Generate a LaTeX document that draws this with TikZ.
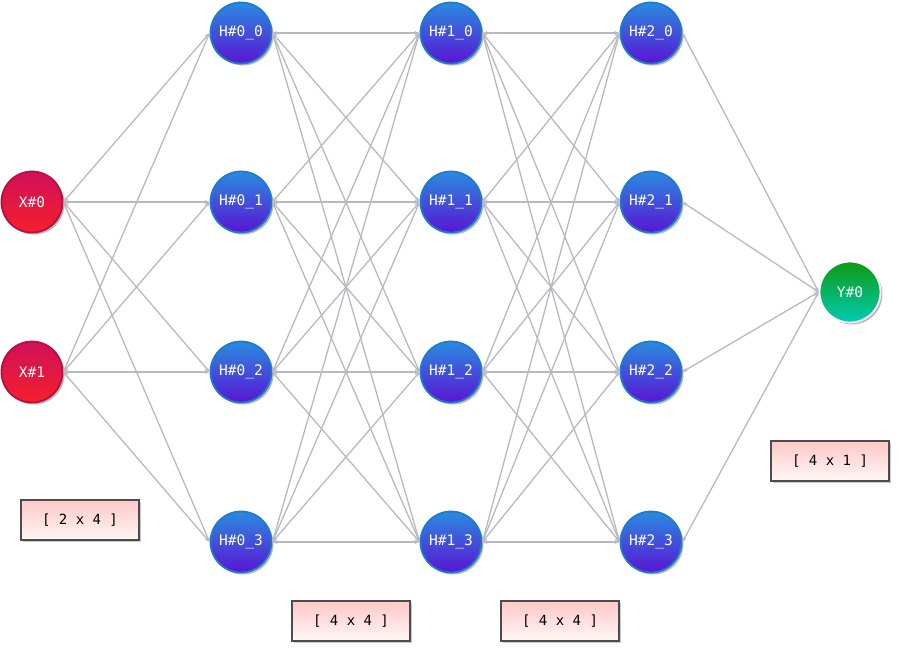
\documentclass[tikz,border=0pt]{standalone}
\usepackage{fontspec}
\setmonofont{DejaVu Sans Mono}
\usetikzlibrary{shadows,arrows.meta}
\definecolor{hTop}{HTML}{2A8BE0}
\definecolor{hBot}{HTML}{5A14D4}
\definecolor{hBrd}{HTML}{1C7CC8}
\definecolor{xTop}{HTML}{D0105A}
\definecolor{xBot}{HTML}{F5202A}
\definecolor{xBrd}{HTML}{B80E48}
\definecolor{yTop}{HTML}{0E9A12}
\definecolor{yBot}{HTML}{00CCB4}
\definecolor{bTop}{HTML}{FFC8C8}
\definecolor{bBot}{HTML}{FFF6F6}
\definecolor{edgeC}{HTML}{B8B8C2}
\tikzset{
  neuron/.style={circle, minimum size=61pt, inner sep=0pt, line width=1.8pt,
    font=\ttfamily\fontsize{14.5}{16}\selectfont, text=white, shading=axis,
    drop shadow={shadow xshift=2pt, shadow yshift=-2pt, fill=gray!70, opacity=0.8}},
  hid/.style={neuron, draw=hBrd, top color=hTop, bottom color=hBot},
  inp/.style={neuron, draw=xBrd, top color=xTop, bottom color=xBot},
  outp/.style={neuron, draw=white, top color=yTop, bottom color=yBot},
  dimbox/.style={rectangle, draw=black!70, line width=1.3pt, minimum width=118pt, minimum height=40pt,
    shading=axis, top color=bTop, bottom color=bBot, font=\ttfamily\fontsize{14}{16}\selectfont,
    drop shadow={shadow xshift=2pt, shadow yshift=-2pt, fill=gray!60, opacity=0.7}},
  conn/.style={draw=edgeC, line width=1.3pt, {Stealth[length=5pt,width=4pt]}-{Stealth[length=5pt,width=4pt]}}
}
\begin{document}
\begin{tikzpicture}[x=1pt,y=-1pt]
\useasboundingbox (0,0) rectangle (905,657);
\coordinate (cx0) at (32,202);
\coordinate (cx1) at (32,372);
\foreach \i/\yy in {0/33,1/202,2/372,3/542}{
  \coordinate (ch0\i) at (241,\yy);
  \coordinate (ch1\i) at (451,\yy);
  \coordinate (ch2\i) at (651,\yy);
}
\node[inp] (x0) at (cx0) {X\#0};
\node[inp] (x1) at (cx1) {X\#1};
\foreach \i in {0,...,3}{
  \node[hid] (h0\i) at (ch0\i) {H\#0\_\i};
  \node[hid] (h1\i) at (ch1\i) {H\#1\_\i};
  \node[hid] (h2\i) at (ch2\i) {H\#2\_\i};
}
\node[outp] (y0) at (850,292) {Y\#0};
\foreach \s in {0,1}{
  \foreach \t in {0,...,3}{
    \draw[conn] (x\s.east) -- (h0\t.west);
  }
}
\foreach \s in {0,...,3}{
  \foreach \t in {0,...,3}{
    \draw[conn] (h0\s.east) -- (h1\t.west);
    \draw[conn] (h1\s.east) -- (h2\t.west);
  }
  \draw[conn] (h2\s.east) -- (y0.west);
}
\node[dimbox] (b1) at (80,520) {[ 2 x 4 ]};
\node[dimbox] (b2) at (351,621) {[ 4 x 4 ]};
\node[dimbox] (b3) at (560,621) {[ 4 x 4 ]};
\node[dimbox] (b4) at (830,461) {[ 4 x 1 ]};
\end{tikzpicture}
\end{document}
